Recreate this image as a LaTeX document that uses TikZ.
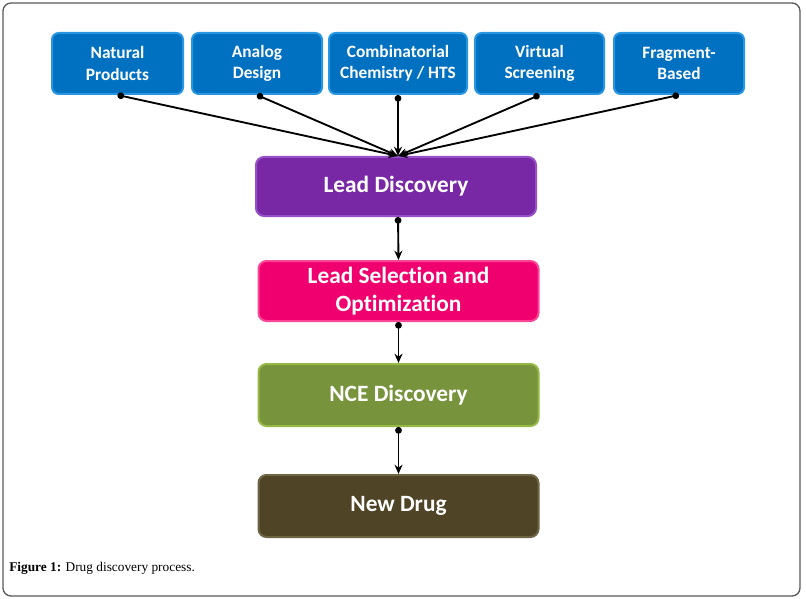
\documentclass[tikz,border=0pt]{standalone}
\usepackage{fontspec}
\setmainfont{Liberation Serif}
\newfontfamily\boxfont[Ligatures=NoCommon]{Carlito}
\usetikzlibrary{arrows.meta}

\definecolor{srcblue}{RGB}{0,112,192}
\definecolor{srcedge}{RGB}{40,150,225}
\definecolor{leadpurple}{RGB}{120,40,165}
\definecolor{leadedge}{RGB}{150,80,200}
\definecolor{selpink}{RGB}{240,0,110}
\definecolor{seledge}{RGB}{250,70,150}
\definecolor{ncegreen}{RGB}{119,147,60}
\definecolor{nceedge}{RGB}{150,185,70}
\definecolor{drugbrown}{RGB}{79,68,38}
\definecolor{drugedge}{RGB}{110,100,70}

\tikzset{
  srcbox/.style={draw=srcedge, fill=srcblue, line width=1.5pt, rounded corners=5pt,
    text=white, font=\boxfont\bfseries\fontsize{13}{16}\selectfont, align=center,
    minimum height=45.75pt, inner sep=0pt},
  stagebox/.style={line width=1.5pt, rounded corners=6pt, text=white,
    font=\boxfont\bfseries\fontsize{17.5}{21}\selectfont, align=center,
    minimum width=210pt, minimum height=45pt, inner sep=0pt},
  feed/.style={line width=1.4pt, {Circle[length=5pt]}-{Stealth[length=7pt,width=6pt]}}
}

\begin{document}
\begin{tikzpicture}[x=0.75pt,y=-0.75pt]

    % the frame
    \useasboundingbox (0,0) rectangle (806,599);
    \draw[gray!70!black, line width=1pt, rounded corners=6pt] (3,3) rectangle (800,596);

    % the sources
    \node[srcbox, minimum width=98.25pt] (natural) at (117.5,63.5) {Natural\\Products};
    \node[srcbox, minimum width=97.5pt] (analog) at (257,63.5) {Analog\\Design};
    \node[srcbox, minimum width=103.5pt] (combi) at (398,63.5) {Combinatorial\\Chemistry / HTS};
    \node[srcbox, minimum width=96.75pt] (virtual) at (539.5,63.5) {Virtual\\Screening};
    \node[srcbox, minimum width=97.5pt] (fragment) at (679,63.5) {Fragment-\\Based};

    % the stages
    \node[stagebox, draw=leadedge, fill=leadpurple, minimum height=44.25pt] (lead) at (396,186.5) {Lead Discovery};
    \node[stagebox, draw=seledge, fill=selpink] (select) at (398.5,291) {Lead Selection and\\Optimization};
    \node[stagebox, draw=nceedge, fill=ncegreen, minimum height=46.5pt] (nce) at (398.5,395) {NCE Discovery};
    \node[stagebox, draw=drugedge, fill=drugbrown, minimum height=46.5pt] (drug) at (398.5,506) {New Drug};

    % where the sources meet
    \coordinate (meet) at (398,156);
    \foreach \src in {natural,analog,combi,virtual,fragment}
      \draw[feed] (\src.south) -- (meet);

    % the chain
    \draw[feed] (398,217) -- (select.north);
    \draw[feed] (select.south) -- (nce.north);
    \draw[feed] (nce.south) -- (drug.north);

    % the caption
    \node[anchor=west, font=\fontsize{10}{12}\selectfont, inner sep=0pt] (caption) at (9,568)
      {\textbf{Figure 1:} Drug discovery process.};
\end{tikzpicture}
\end{document}
